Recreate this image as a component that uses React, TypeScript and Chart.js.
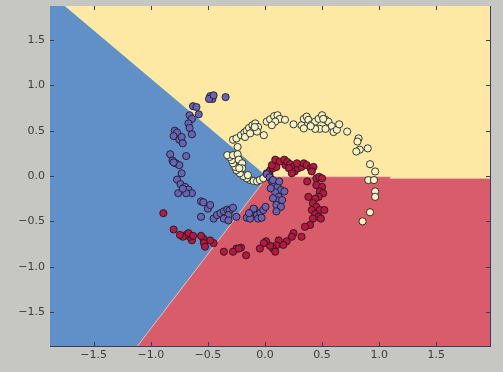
import React, { useEffect, useRef } from "react";
import { Chart, registerables } from "chart.js";

Chart.register(...registerables);

// Axis extents (data units)
const xRange = [-1.883, 1.971];
const yRange = [-1.875, 1.875];

// Tick labels
const xTickValues = [-1.5, -1.0, -0.5, 0.0, 0.5, 1.0, 1.5];
const yTickValues = [-1.5, -1.0, -0.5, 0.0, 0.5, 1.0, 1.5];

// Decision boundaries of the linear classifier
const blueBase = [
  { x: -1.883, y: 1.875 },
  { x: 1.971, y: 1.875 },
];
const yellowBoundary = [
  { x: -1.754, y: 1.875 },
  { x: 0.02, y: -0.007 },
  { x: 1.1, y: -0.007 },
  { x: 1.1, y: -0.026 },
  { x: 1.971, y: -0.026 },
];
const redBoundary = [
  { x: -1.117, y: -1.875 },
  { x: 0.02, y: -0.007 },
  { x: 1.1, y: -0.007 },
  { x: 1.1, y: -0.026 },
  { x: 1.971, y: -0.026 },
];

// Spiral data, class 0 (red)
const redX = [0.015,0.045,0.07,0.1,0.06,0.09,0.13,0.17,0.18,0.195,0.22,0.25,0.26,0.29,0.32,0.34,0.365,0.4,0.425,0.41,0.28,0.21,0.235,0.45,0.475,0.5,0.37,0.45,0.5,0.48,0.51,0.47,0.44,0.38,0.42,0.45,0.48,0.52,0.41,0.44,0.47,0.42,0.49,0.395,0.35,0.32,0.25,0.235,0.19,0.16,0.12,0.1,0.07,0.09,0.045,0.01,-0.01,-0.045,-0.165,-0.21,-0.25,-0.28,-0.36,-0.45,-0.48,-0.54,-0.535,-0.525,-0.56,-0.64,-0.66,-0.69,-0.72,-0.745,-0.67,-0.63,-0.8,-0.89,-0.23,0.04];
const redY = [0.03,0.065,0.085,0.1,0.12,0.18,0.16,0.18,0.12,0.155,0.13,0.1,0.05,0.085,0.1,0.14,0.12,0.085,0.1,0.05,0.14,0.085,0.03,-0.025,-0.01,-0.025,-0.06,-0.1,-0.12,-0.17,-0.19,-0.23,-0.25,-0.23,-0.3,-0.34,-0.375,-0.375,-0.375,-0.42,-0.45,-0.47,-0.47,-0.54,-0.56,-0.67,-0.63,-0.67,-0.72,-0.76,-0.71,-0.765,-0.8,-0.835,-0.77,-0.72,-0.74,-0.8,-0.875,-0.79,-0.8,-0.835,-0.835,-0.74,-0.71,-0.69,-0.74,-0.78,-0.66,-0.71,-0.67,-0.65,-0.67,-0.65,-0.63,-0.66,-0.59,-0.41,-0.8,0.01];

// Class 1 (yellow)
const yellowX = [-0.13,-0.1,-0.07,-0.045,-0.015,-0.16,-0.19,-0.22,-0.25,-0.26,-0.28,-0.29,-0.31,-0.33,-0.28,-0.24,-0.23,-0.2,-0.2,-0.225,-0.15,-0.28,-0.25,-0.21,-0.18,-0.16,-0.14,-0.11,-0.085,-0.06,-0.01,-0.1,-0.175,-0.13,0.015,0.045,0.08,0.11,0.13,0.175,0.09,0.06,0.25,0.32,0.34,0.365,0.38,0.41,0.44,0.47,0.5,0.53,0.555,0.585,0.6,0.63,0.65,0.72,0.48,0.44,0.53,0.34,0.4,0.51,0.82,0.81,0.83,0.8,0.9,0.92,0.965,0.905,0.955,0.965,0.965,0.92,0.855,-0.24,-0.07,-0.09];
const yellowY = [-0.045,-0.055,-0.06,-0.045,-0.025,-0.025,0.0,0.03,0.065,0.1,0.14,0.175,0.21,0.23,0.23,0.24,0.18,0.14,0.085,0.085,0.01,0.4,0.415,0.45,0.48,0.5,0.53,0.56,0.58,0.54,0.45,0.51,0.43,0.47,0.6,0.625,0.66,0.67,0.63,0.62,0.6,0.56,0.57,0.56,0.63,0.655,0.62,0.57,0.6,0.63,0.67,0.62,0.6,0.55,0.485,0.51,0.57,0.49,0.52,0.52,0.52,0.525,0.55,0.63,0.415,0.38,0.29,0.27,0.305,0.13,0.05,-0.045,-0.045,-0.17,-0.23,-0.4,-0.5,0.32,0.49,0.54];

// Class 2 (purple)
const purpleX = [-0.48,-0.46,-0.49,-0.45,-0.345,-0.63,-0.6,-0.58,-0.66,-0.64,-0.67,-0.66,-0.64,-0.79,-0.77,-0.8,-0.75,-0.73,-0.72,-0.69,-0.83,-0.81,-0.78,-0.75,-0.73,-0.8,-0.77,-0.74,-0.7,-0.67,-0.64,-0.76,-0.69,-0.72,-0.56,-0.54,-0.5,-0.48,-0.56,-0.45,-0.42,-0.39,-0.36,-0.33,-0.31,-0.28,-0.32,-0.25,-0.36,-0.32,-0.16,-0.13,-0.12,-0.09,-0.07,-0.04,-0.015,0.005,-0.06,-0.1,-0.03,-0.14,0.015,0.04,0.06,0.08,0.11,0.14,0.17,0.09,0.12,0.1,0.15,0.1,0.14,0.1,0.07,0.05,0.07,0.125];
const purpleY = [0.88,0.85,0.85,0.89,0.87,0.77,0.76,0.68,0.67,0.63,0.58,0.53,0.46,0.5,0.48,0.44,0.4,0.43,0.36,0.22,0.24,0.17,0.14,0.12,0.03,0.15,-0.04,-0.09,-0.12,-0.15,-0.19,-0.19,-0.19,-0.14,-0.28,-0.29,-0.36,-0.32,-0.45,-0.47,-0.43,-0.41,-0.39,-0.37,-0.38,-0.35,-0.43,-0.45,-0.47,-0.49,-0.46,-0.47,-0.4,-0.375,-0.43,-0.41,-0.375,-0.34,-0.47,-0.36,-0.46,-0.41,0.02,-0.015,-0.06,-0.1,-0.12,-0.155,-0.17,-0.18,-0.23,-0.265,-0.265,-0.32,-0.34,-0.39,-0.045,-0.135,-0.245,-0.06];

const zip = (xs: number[], ys: number[]) => xs.map((x, i) => ({ x, y: ys[i] }));
const fmt = (v: number) => v.toFixed(1).replace("-", "\u2212");

const BG = "#c6c6c3";
const FRAME = "#34405a";
const TEXT = "#3e3e3e";

// matplotlib-classic style inward tick marks on all four sides
const innerTicks = {
  id: "innerTicks",
  afterDatasetsDraw(chart: any) {
    const { ctx, chartArea: a, scales } = chart;
    const len = 4;
    ctx.save();
    ctx.strokeStyle = FRAME;
    ctx.lineWidth = 1;
    ctx.beginPath();
    for (const t of scales.x.ticks) {
      const px = Math.round(scales.x.getPixelForValue(t.value)) + 0.5;
      ctx.moveTo(px, a.bottom);
      ctx.lineTo(px, a.bottom - len);
      ctx.moveTo(px, a.top);
      ctx.lineTo(px, a.top + len);
    }
    for (const t of scales.y.ticks) {
      const py = Math.round(scales.y.getPixelForValue(t.value)) + 0.5;
      ctx.moveTo(a.left, py);
      ctx.lineTo(a.left + len, py);
      ctx.moveTo(a.right, py);
      ctx.lineTo(a.right - len, py);
    }
    ctx.stroke();
    ctx.restore();
  },
};

export default function App() {
  const ref = useRef<HTMLCanvasElement | null>(null);

  useEffect(() => {
    if (!ref.current) return;
    Chart.defaults.font.family = "'DejaVu Sans', sans-serif";
    Chart.defaults.font.size = 11;
    Chart.defaults.color = TEXT;

    const pointStyle = {
      pointRadius: 3.6,
      pointBorderWidth: 1,
      pointBorderColor: "rgba(25,25,30,0.85)",
    };

    const chart = new Chart(ref.current, {
      type: "scatter",
      data: {
        datasets: [
          {
            type: "scatter",
            data: zip(purpleX, purpleY),
            backgroundColor: "#6a62b4",
            ...pointStyle,
            order: 0,
          } as any,
          {
            type: "scatter",
            data: zip(yellowX, yellowY),
            backgroundColor: "#f4f3c2",
            ...pointStyle,
            order: 1,
          } as any,
          {
            type: "scatter",
            data: zip(redX, redY),
            backgroundColor: "#b8173e",
            ...pointStyle,
            order: 2,
          } as any,
          {
            type: "line",
            data: redBoundary,
            fill: "start",
            backgroundColor: "#d95c6b",
            borderColor: "rgba(238,205,170,0.9)",
            borderWidth: 1,
            pointRadius: 0,
            tension: 0,
            order: 5,
          } as any,
          {
            type: "line",
            data: yellowBoundary,
            fill: "end",
            backgroundColor: "#fde9a4",
            borderColor: "rgba(0,0,0,0)",
            borderWidth: 0,
            pointRadius: 0,
            tension: 0,
            order: 6,
          } as any,
          {
            type: "line",
            data: blueBase,
            fill: "start",
            backgroundColor: "#618fc8",
            borderColor: "rgba(0,0,0,0)",
            borderWidth: 0,
            pointRadius: 0,
            tension: 0,
            order: 7,
          } as any,
        ],
      },
      options: {
        animation: false,
        responsive: false,
        maintainAspectRatio: false,
        layout: { padding: { left: 0, top: 6, right: 13, bottom: 0 } },
        plugins: {
          legend: { display: false },
          tooltip: { enabled: false },
        },
        scales: {
          x: {
            type: "linear",
            position: "bottom",
            min: xRange[0],
            max: xRange[1],
            grid: { display: false, drawTicks: false },
            border: { display: true, color: FRAME, width: 1 },
            ticks: {
              includeBounds: false,
              padding: 3,
              color: TEXT,
              callback: (v: any) => fmt(Number(v)),
            },
            afterBuildTicks: (s: any) => {
              s.ticks = xTickValues.map((value) => ({ value }));
            },
            afterFit: (s: any) => {
              s.height = 26;
              s.paddingLeft = 0;
              s.paddingRight = 0;
            },
          },
          y: {
            type: "linear",
            position: "left",
            min: yRange[0],
            max: yRange[1],
            grid: { display: false, drawTicks: false },
            border: { display: true, color: FRAME, width: 1 },
            ticks: {
              includeBounds: false,
              padding: 5,
              color: TEXT,
              callback: (v: any) => fmt(Number(v)),
            },
            afterBuildTicks: (s: any) => {
              s.ticks = yTickValues.map((value) => ({ value }));
            },
            afterFit: (s: any) => {
              s.width = 50;
              s.paddingTop = 0;
              s.paddingBottom = 0;
            },
          },
          xTop: {
            type: "linear",
            position: "top",
            min: xRange[0],
            max: xRange[1],
            grid: { display: false, drawTicks: false },
            border: { display: true, color: FRAME, width: 1 },
            ticks: { display: false },
            afterFit: (s: any) => {
              s.height = 0;
              s.paddingLeft = 0;
              s.paddingRight = 0;
            },
          },
          yRight: {
            type: "linear",
            position: "right",
            min: yRange[0],
            max: yRange[1],
            grid: { display: false, drawTicks: false },
            border: { display: true, color: FRAME, width: 1 },
            ticks: { display: false },
            afterFit: (s: any) => {
              s.width = 0;
              s.paddingTop = 0;
              s.paddingBottom = 0;
            },
          },
        },
      } as any,
      plugins: [innerTicks],
    });
    return () => chart.destroy();
  }, []);

  return (
    <div
      style={{
        position: "fixed",
        left: 0,
        top: 0,
        width: 503,
        height: 372,
        background: BG,
      }}
    >
      <canvas ref={ref} width={503} height={372} style={{ display: "block" }} />
    </div>
  );
}
